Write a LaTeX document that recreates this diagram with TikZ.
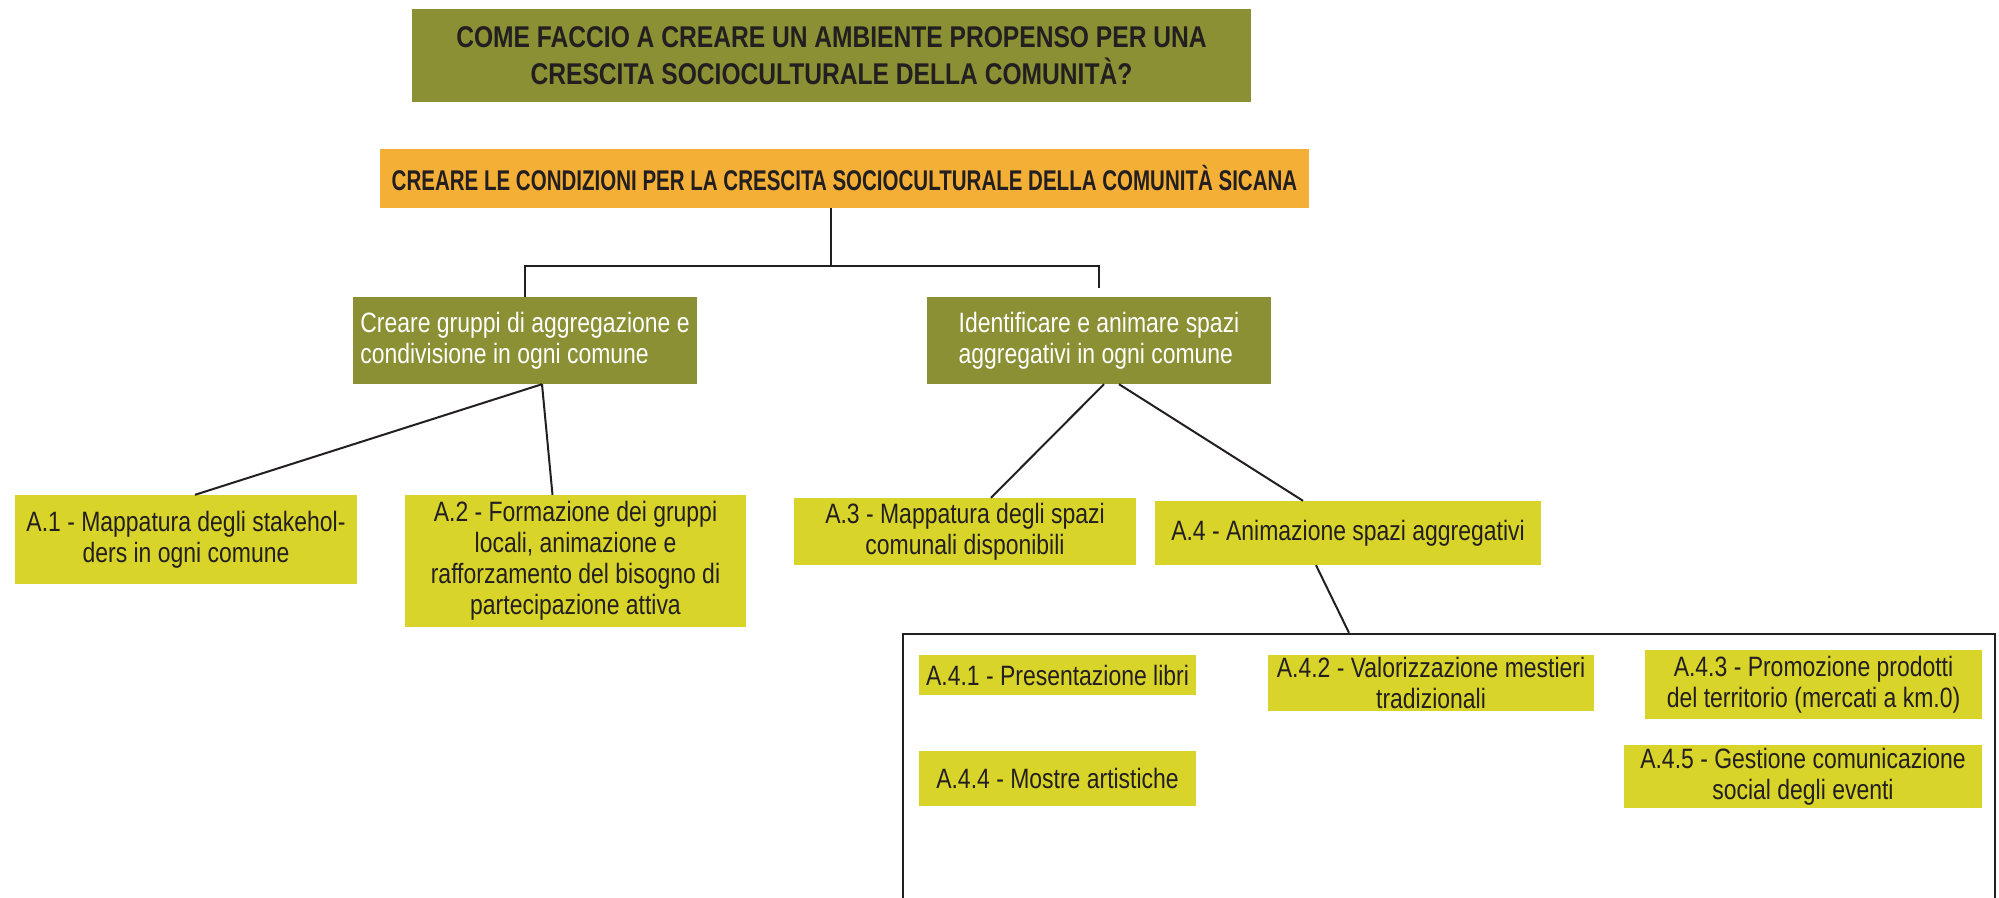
\documentclass[tikz,border=0pt]{standalone}
\usepackage{fontspec}
\setmainfont[FakeStretch=0.82]{Liberation Sans}
\newfontfamily\strettofont[FakeStretch=0.72]{Liberation Sans}
\usetikzlibrary{positioning}
\definecolor{oliva}{HTML}{8A9033}
\definecolor{arancio}{HTML}{F4AF36}
\definecolor{giallo}{HTML}{D8D42A}
\definecolor{testo}{HTML}{231F20}
\tikzset{
  box/.style={rectangle, inner sep=0pt, text=testo, align=center,
    font=\fontsize{28}{31}\selectfont},
  domanda/.style={box, fill=oliva, font=\fontsize{30}{37}\selectfont\bfseries},
  obiettivo/.style={box, fill=arancio, font=\strettofont\fontsize{28.5}{31}\selectfont\bfseries},
  ramo/.style={box, fill=oliva, text=white, align=left},
  azione/.style={box, fill=giallo},
  link/.style={line width=2pt, draw=testo},
}
\begin{document}
\begin{tikzpicture}[x=1pt, y=-1pt]
    \useasboundingbox (0, 0) rectangle (1999, 897);
    \node [domanda, minimum width=839, minimum height=93] (dom) at (831.5, 55.5)
        {COME FACCIO A CREARE UN AMBIENTE PROPENSO PER UNA\\CRESCITA SOCIOCULTURALE DELLA COMUNITÀ?};
    \node [obiettivo, minimum width=929, minimum height=59] (obi) at (844.5, 178.5)
        {CREARE LE CONDIZIONI PER LA CRESCITA SOCIOCULTURALE DELLA COMUNITÀ SICANA};
    \node [ramo, minimum width=344, minimum height=87] (gruppi) at (525, 340.5)
        {Creare gruppi di aggregazione e\\condivisione in ogni comune};
    \node [ramo, minimum width=344, minimum height=87] (spazi) at (1099, 340.5)
        {Identificare e animare spazi\\aggregativi in ogni comune};
    \node [azione, minimum width=342, minimum height=89] (a1) at (186, 539.5)
        {A.1 - Mappatura degli stakehol-\\ders in ogni comune};
    \node [azione, minimum width=341, minimum height=132] (a2) at (575.5, 561)
        {A.2 - Formazione dei gruppi\\locali, animazione e\\rafforzamento del bisogno di\\partecipazione attiva};
    \node [azione, minimum width=342, minimum height=67] (a3) at (965, 531.5)
        {A.3 - Mappatura degli spazi\\comunali disponibili};
    \node [azione, minimum width=386, minimum height=64] (a4) at (1348, 533)
        {A.4 - Animazione spazi aggregativi};
    % riquadro delle attivita di A.4
    \node [draw=testo, line width=2.4pt, minimum width=1092, minimum height=366] (riquadro) at (1449, 817) {};
    \node [azione, minimum width=277, minimum height=40] (a41) at (1057.5, 675)
        {A.4.1 - Presentazione libri};
    \node [azione, minimum width=326, minimum height=56] (a42) at (1431, 683)
        {A.4.2 - Valorizzazione mestieri\\tradizionali};
    \node [azione, minimum width=337, minimum height=69] (a43) at (1813.5, 684.5)
        {A.4.3 - Promozione prodotti\\del territorio (mercati a km.0)};
    \node [azione, minimum width=277, minimum height=55] (a44) at (1057.5, 778.5)
        {A.4.4 - Mostre artistiche};
    \node [azione, minimum width=358, minimum height=63] (a45) at (1803, 776.5)
        {A.4.5 - Gestione comunicazione\\social degli eventi};
    \draw [link] ([xshift=-14]obi.south) -- ++(0, 58) coordinate (nodo);
    \draw [link] (gruppi.north) |- (nodo) -| ([yshift=9]spazi.north);
    \draw [link] ([xshift=17]gruppi.south) -- ([xshift=9]a1.north);
    \draw [link] ([xshift=17]gruppi.south) -- ([xshift=-23]a2.north);
    \draw [link] ([xshift=5]spazi.south) -- ([xshift=26]a3.north);
    \draw [link] ([xshift=20]spazi.south) -- ([xshift=-45]a4.north);
    \draw [link] ([xshift=-32]a4.south) -- ([xshift=-100]riquadro.north);
\end{tikzpicture}
\end{document}
